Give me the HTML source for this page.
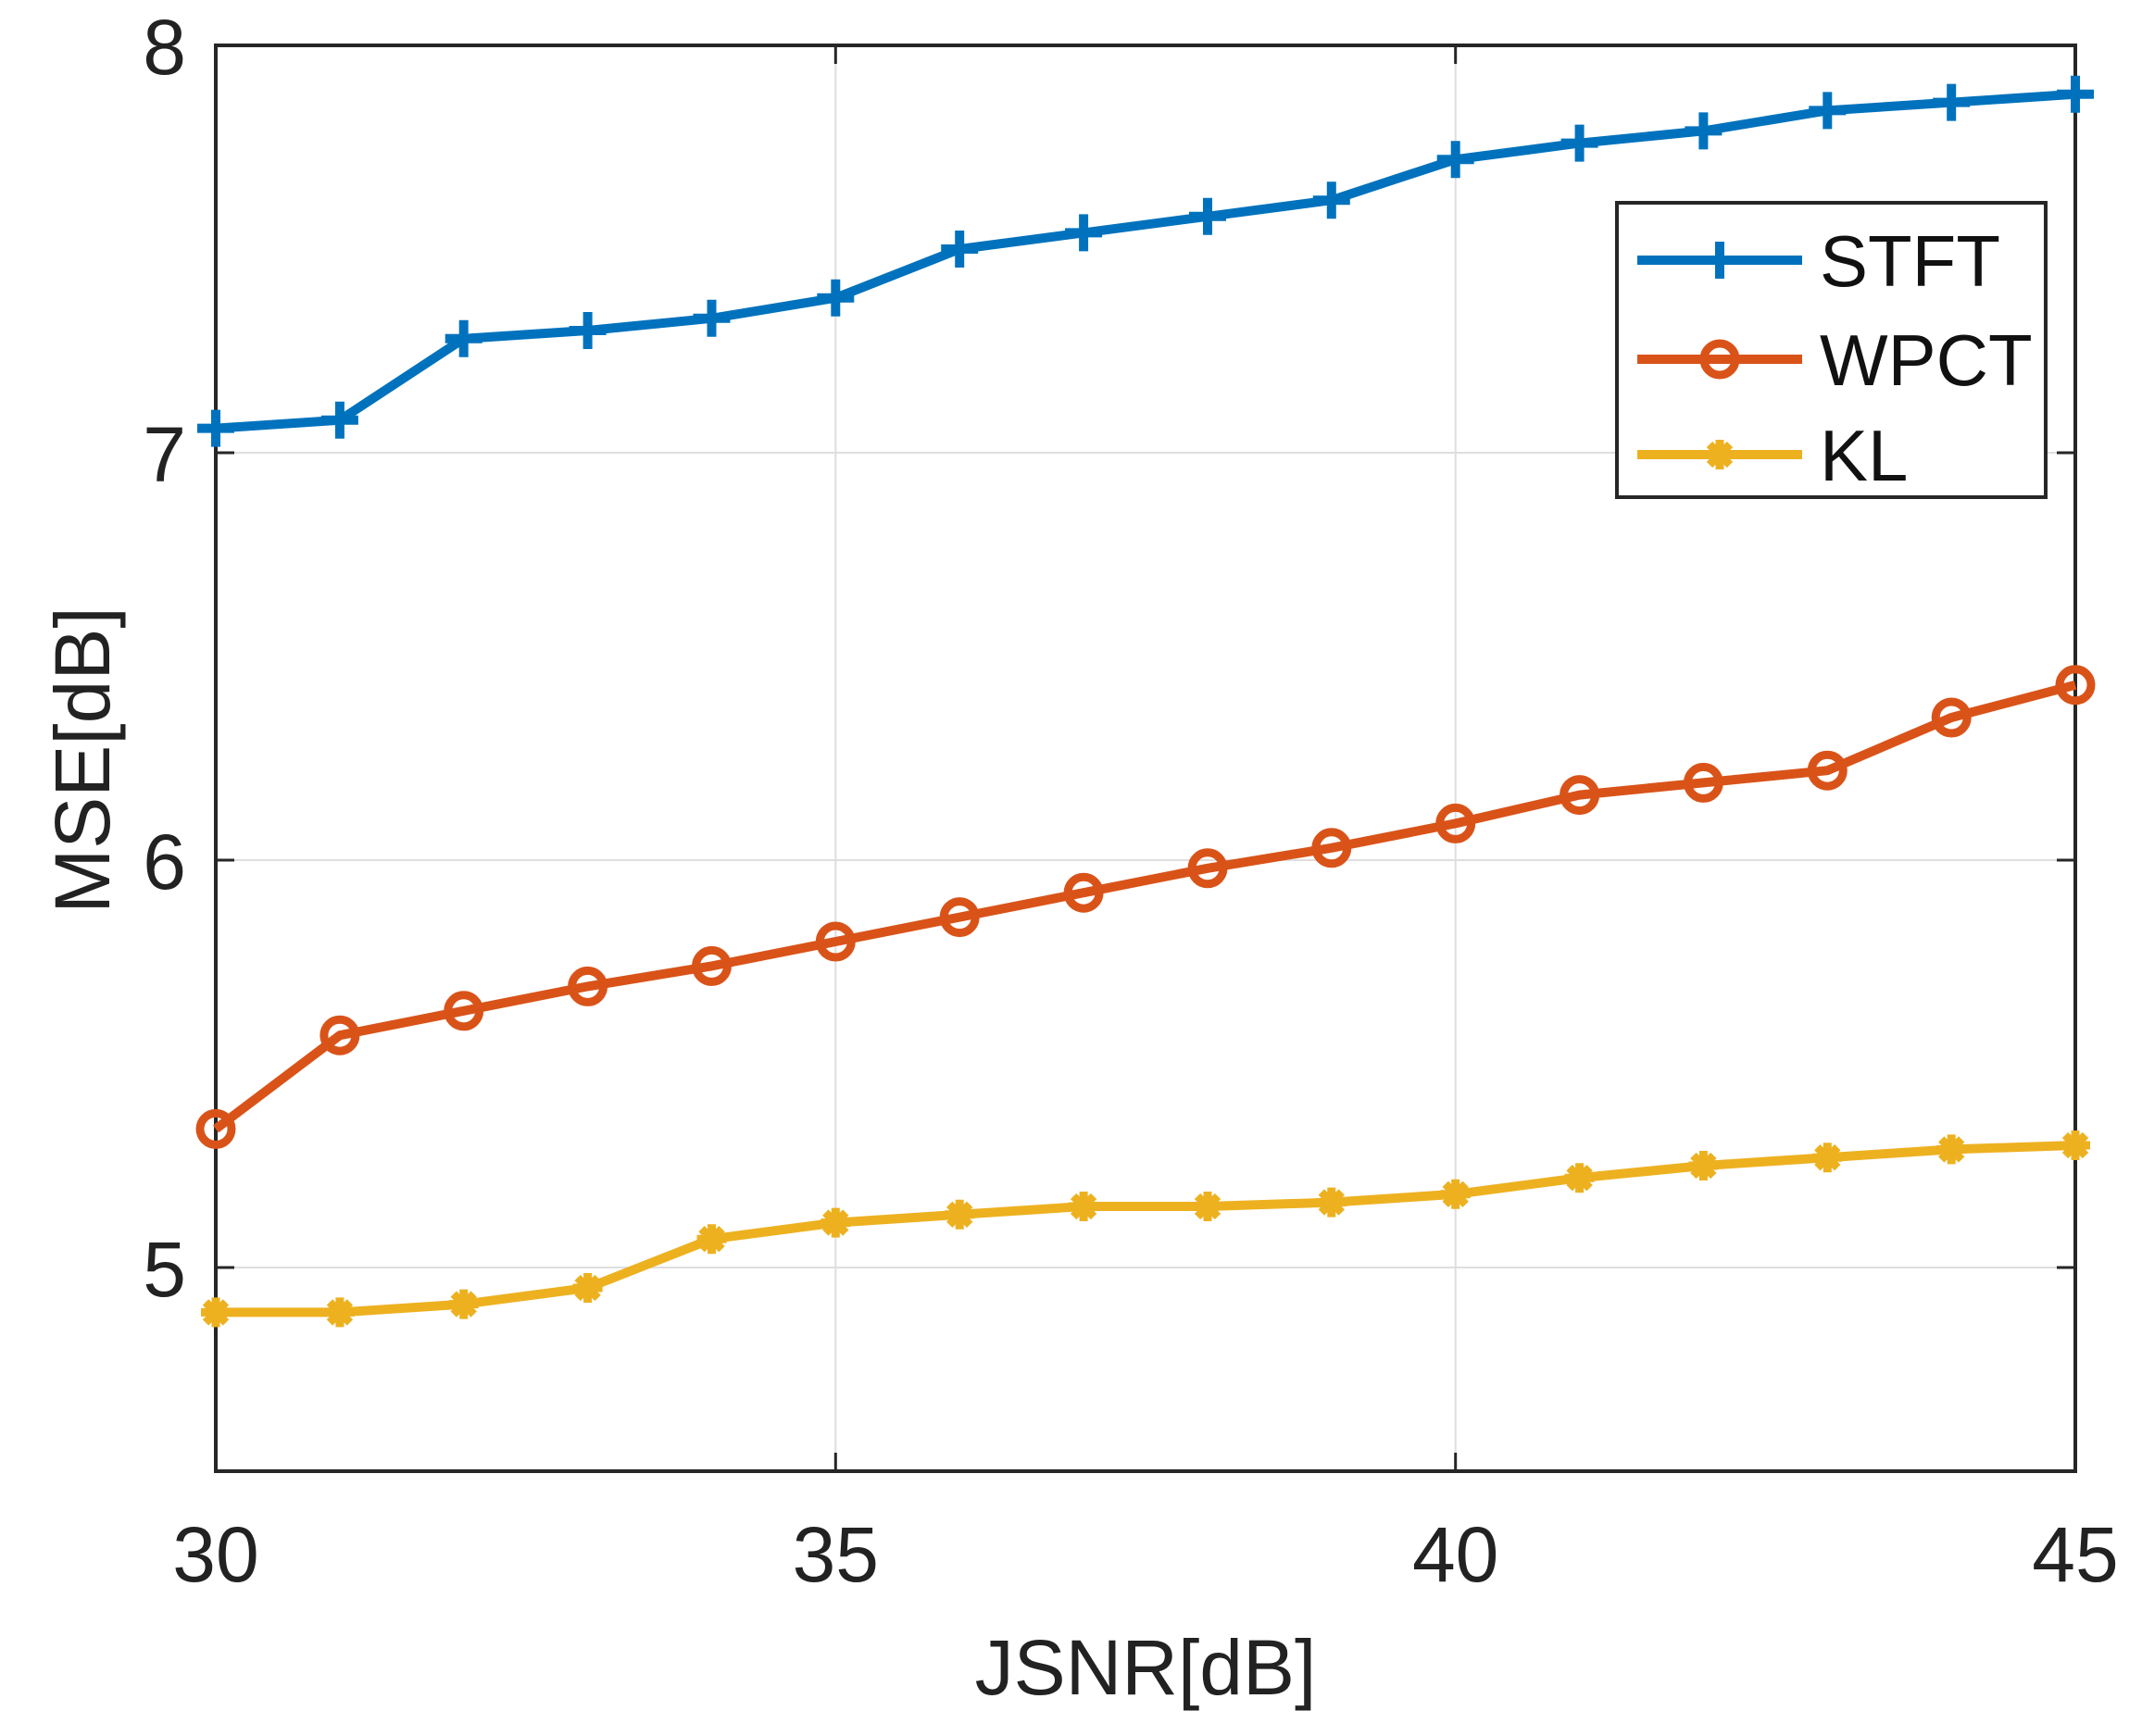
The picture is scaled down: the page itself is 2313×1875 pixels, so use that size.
<!DOCTYPE html>
<html><head><style>body{margin:0;background:#fff}svg{display:block}</style></head><body>
<svg width="2313" height="1875" viewBox="0 0 2313 1875" xmlns="http://www.w3.org/2000/svg" font-family="Liberation Sans, Arial, sans-serif">
<defs>
<g id="pl"><line x1="-20" y1="0" x2="20" y2="0"/><line x1="0" y1="-20" x2="0" y2="20"/></g>
<g id="ci"><circle r="17" fill="none"/></g>
<g id="st"><line x1="-16" y1="0" x2="16" y2="0"/><line x1="0" y1="-16" x2="0" y2="16"/><line x1="-11" y1="-11" x2="11" y2="11"/><line x1="-11" y1="11" x2="11" y2="-11"/></g>
</defs>
<rect x="233" y="49" width="2008" height="1540" fill="#fff"/>
<g stroke="#dedede" stroke-width="2">
<line x1="902.3" y1="49" x2="902.3" y2="1589"/><line x1="1571.7" y1="49" x2="1571.7" y2="1589"/>
<line x1="233" y1="489" x2="2241" y2="489"/><line x1="233" y1="929" x2="2241" y2="929"/><line x1="233" y1="1369" x2="2241" y2="1369"/>
</g>
<g stroke="#262626" stroke-width="3">
<line x1="902.3" y1="1589" x2="902.3" y2="1569"/><line x1="1571.7" y1="1589" x2="1571.7" y2="1569"/>
<line x1="902.3" y1="49" x2="902.3" y2="69"/><line x1="1571.7" y1="49" x2="1571.7" y2="69"/>
<line x1="233" y1="489" x2="253" y2="489"/><line x1="233" y1="929" x2="253" y2="929"/><line x1="233" y1="1369" x2="253" y2="1369"/>
<line x1="2241" y1="489" x2="2221" y2="489"/><line x1="2241" y1="929" x2="2221" y2="929"/><line x1="2241" y1="1369" x2="2221" y2="1369"/>
</g>
<rect x="233" y="49" width="2008" height="1540" fill="none" stroke="#262626" stroke-width="4"/>
<g fill="none" stroke-width="10" stroke-linejoin="round">
<polyline stroke="#0072BD" points="233,462.6 366.9,453.8 500.7,365.8 634.6,357 768.5,343.8 902.3,321.8 1036.2,269 1170.1,251.4 1304,233.8 1437.8,216.2 1571.7,172.2 1705.6,154.6 1839.4,141.4 1973.3,119.4 2107.2,110.6 2241,101.8"/>
<polyline stroke="#D95319" points="233,1219.4 366.9,1118.2 500.7,1091.8 634.6,1065.4 768.5,1043.4 902.3,1017 1036.2,990.6 1170.1,964.2 1304,937.8 1437.8,915.8 1571.7,889.4 1705.6,858.6 1839.4,845.4 1973.3,832.2 2107.2,775 2241,739.8"/>
<polyline stroke="#EDB120" points="233,1417.4 366.9,1417.4 500.7,1408.6 634.6,1391 768.5,1338.2 902.3,1320.6 1036.2,1311.8 1170.1,1303 1304,1303 1437.8,1298.6 1571.7,1289.8 1705.6,1272.2 1839.4,1259 1973.3,1250.2 2107.2,1241.4 2241,1237"/>
</g>
<g stroke="#0072BD" stroke-width="10">
<use href="#pl" x="233" y="462.6"/><use href="#pl" x="366.9" y="453.8"/><use href="#pl" x="500.7" y="365.8"/><use href="#pl" x="634.6" y="357"/><use href="#pl" x="768.5" y="343.8"/><use href="#pl" x="902.3" y="321.8"/><use href="#pl" x="1036.2" y="269"/><use href="#pl" x="1170.1" y="251.4"/><use href="#pl" x="1304" y="233.8"/><use href="#pl" x="1437.8" y="216.2"/><use href="#pl" x="1571.7" y="172.2"/><use href="#pl" x="1705.6" y="154.6"/><use href="#pl" x="1839.4" y="141.4"/><use href="#pl" x="1973.3" y="119.4"/><use href="#pl" x="2107.2" y="110.6"/><use href="#pl" x="2241" y="101.8"/>
</g>
<g stroke="#D95319" stroke-width="9">
<use href="#ci" x="233" y="1219.4"/><use href="#ci" x="366.9" y="1118.2"/><use href="#ci" x="500.7" y="1091.8"/><use href="#ci" x="634.6" y="1065.4"/><use href="#ci" x="768.5" y="1043.4"/><use href="#ci" x="902.3" y="1017"/><use href="#ci" x="1036.2" y="990.6"/><use href="#ci" x="1170.1" y="964.2"/><use href="#ci" x="1304" y="937.8"/><use href="#ci" x="1437.8" y="915.8"/><use href="#ci" x="1571.7" y="889.4"/><use href="#ci" x="1705.6" y="858.6"/><use href="#ci" x="1839.4" y="845.4"/><use href="#ci" x="1973.3" y="832.2"/><use href="#ci" x="2107.2" y="775"/><use href="#ci" x="2241" y="739.8"/>
</g>
<g stroke="#EDB120" stroke-width="9">
<use href="#st" x="233" y="1417.4"/><use href="#st" x="366.9" y="1417.4"/><use href="#st" x="500.7" y="1408.6"/><use href="#st" x="634.6" y="1391"/><use href="#st" x="768.5" y="1338.2"/><use href="#st" x="902.3" y="1320.6"/><use href="#st" x="1036.2" y="1311.8"/><use href="#st" x="1170.1" y="1303"/><use href="#st" x="1304" y="1303"/><use href="#st" x="1437.8" y="1298.6"/><use href="#st" x="1571.7" y="1289.8"/><use href="#st" x="1705.6" y="1272.2"/><use href="#st" x="1839.4" y="1259"/><use href="#st" x="1973.3" y="1250.2"/><use href="#st" x="2107.2" y="1241.4"/><use href="#st" x="2241" y="1237"/>
</g>
<!-- legend -->
<rect x="1746" y="219" width="463" height="318" fill="#fff" stroke="#262626" stroke-width="4"/>
<line x1="1768" y1="281" x2="1946" y2="281" stroke="#0072BD" stroke-width="10"/>
<use href="#pl" x="1857" y="281" stroke="#0072BD" stroke-width="10"/>
<line x1="1768" y1="388" x2="1946" y2="388" stroke="#D95319" stroke-width="10"/>
<use href="#ci" x="1857" y="388" stroke="#D95319" stroke-width="9"/>
<line x1="1768" y1="491" x2="1946" y2="491" stroke="#EDB120" stroke-width="10"/>
<use href="#st" x="1857" y="491" stroke="#EDB120" stroke-width="9"/>
<g font-size="78" fill="#111">
<text x="1965" y="309">STFT</text>
<text x="1965" y="416">WPCT</text>
<text x="1965" y="519">KL</text>
</g>
<g font-size="84" fill="#222" text-anchor="end">
<text x="201" y="80">8</text><text x="201" y="520">7</text><text x="201" y="960">6</text><text x="201" y="1400">5</text>
</g>
<g font-size="84" fill="#222" text-anchor="middle">
<text x="233" y="1708">30</text><text x="902.3" y="1708">35</text><text x="1571.7" y="1708">40</text><text x="2241" y="1708">45</text>
<text x="1237" y="1830">JSNR[dB]</text>
<text transform="translate(118,821) rotate(-90)">MSE[dB]</text>
</g>
</svg>
</body></html>
